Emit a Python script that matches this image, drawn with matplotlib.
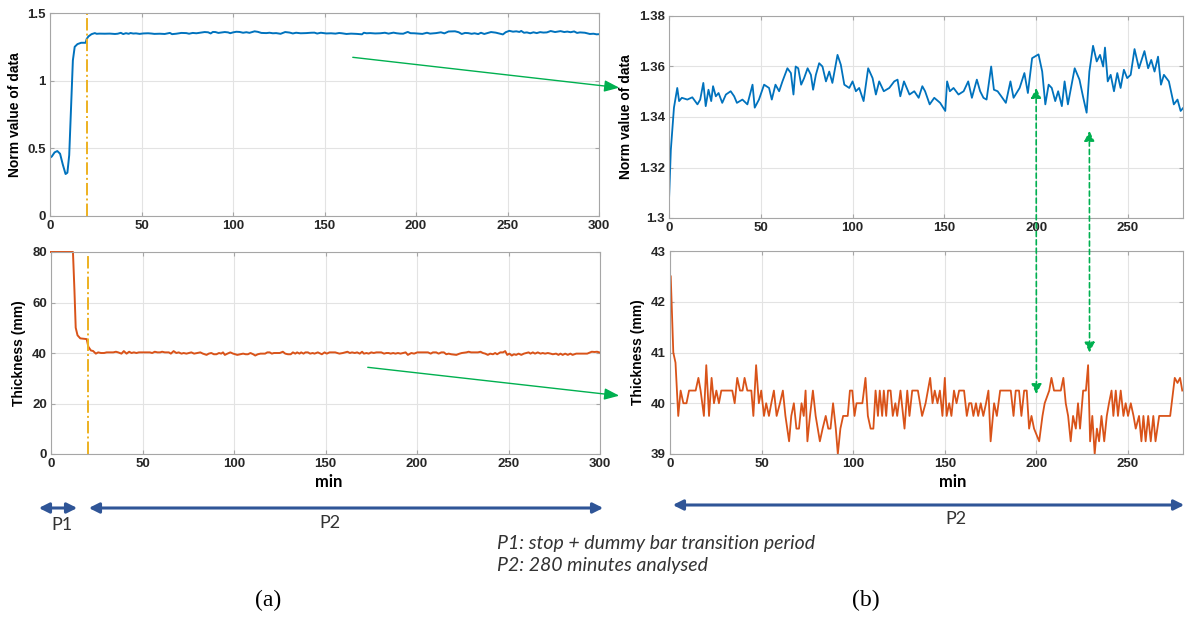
import numpy as np
import matplotlib
matplotlib.use("Agg")
import matplotlib.pyplot as plt
from matplotlib.patches import FancyArrowPatch, ConnectionPatch

# ── data ─────────────────────────────────────────────────────────────────────
# P1 transition (left panels, minutes 0-20)
p1_t = np.array([0, 1, 2.5, 4, 5.5, 7, 8.5, 9.5, 10.5, 11.5, 12.5, 13.5, 15, 17, 19.5])
p1_norm = np.array([0.43, 0.44, 0.47, 0.48, 0.46, 0.38, 0.31, 0.32, 0.45, 0.80,
                    1.15, 1.25, 1.27, 1.28, 1.28])
p1_thk_t = np.array([0, 12, 12.8, 13.5, 14.5, 16, 19.5])
p1_thk = np.array([80, 80, 65, 50, 47, 45.8, 45.5])

# P2 norm value, 280 minutes analysed
p2_norm_t = np.array([
    0, 1, 2.7, 4.5, 5.5, 7, 10, 12.7, 15.5, 17,
    18.7, 20, 21.5, 23, 24, 25.5, 27, 29, 31, 33.6,
    35.5, 37, 40, 42.7, 45.5, 46.7, 49, 51.8, 54.5, 56,
    58, 60, 61.8, 64.5, 66.4, 67.8, 69, 70.4, 72, 73.6,
    75.5, 77.3, 78.5, 80, 81.8, 83.6, 85.5, 87.3, 89, 91.8,
    93.6, 95.5, 98.2, 100, 101.8, 103.6, 106, 108.5, 110.9, 112.7,
    114.5, 117, 120, 122.7, 124.5, 126, 128, 131, 133.6, 136,
    138,
    139.5, 142, 144.5, 147.7, 150.5, 151.5, 153, 155, 157.7, 160.5,
    163, 165, 167.7, 169.5, 171.3, 173, 175.5, 177, 179, 181,
    183.5, 186, 187.7, 191, 193.6, 195.5, 197.8, 201.3, 203.3, 205,
    206.8, 208.5, 210.4, 212, 214, 215.5, 217.3, 219, 221, 223.6,
    225.5, 227.5, 229, 231, 233, 234.8, 236.5, 237.5, 239, 240.6,
    242.4, 244.2, 246, 247.8, 249.6, 251.5, 253.6, 256, 259, 261,
    262.7, 264.5, 266.4, 268, 269.6, 272.3, 275, 277, 278.7, 280])
p2_norm = np.array([
    1.307, 1.327, 1.3437, 1.3515, 1.3463, 1.3476, 1.3469, 1.3478, 1.3450, 1.3469,
    1.3535, 1.3443, 1.3508, 1.3463, 1.3522, 1.3482, 1.3495, 1.3456, 1.3489, 1.3502,
    1.3482, 1.3456, 1.3469, 1.3450, 1.3528, 1.3437, 1.3469, 1.3528, 1.3515, 1.3469,
    1.3528, 1.3502, 1.3541, 1.3593, 1.3574, 1.3489, 1.3600, 1.3593, 1.3528, 1.3554,
    1.3593, 1.3567, 1.3508, 1.3567, 1.3613, 1.3600, 1.3541, 1.3580, 1.3535, 1.3646,
    1.3607, 1.3528, 1.3515, 1.3541, 1.3502, 1.3515, 1.3463, 1.3593, 1.3554, 1.3489,
    1.3541, 1.3502, 1.3515, 1.3541, 1.3548, 1.3482, 1.3541, 1.3489, 1.3502, 1.3476,
    1.3522,
    1.3502, 1.3450, 1.3476, 1.3456, 1.3424, 1.3541, 1.3502, 1.3515, 1.3489, 1.3502,
    1.3541, 1.3476, 1.3548, 1.3502, 1.3476, 1.3469, 1.3600, 1.3508, 1.3502, 1.3482,
    1.3456, 1.3541, 1.3476, 1.3515, 1.3574, 1.3495, 1.3633, 1.3648, 1.3580, 1.3450,
    1.3528, 1.3515, 1.3463, 1.3502, 1.3443, 1.3541, 1.3450, 1.3515, 1.3593, 1.3548,
    1.3482, 1.3417, 1.3580, 1.3682, 1.3620, 1.3646, 1.3600, 1.3675, 1.3541, 1.3567,
    1.3502, 1.3574, 1.3515, 1.3587, 1.3554, 1.3567, 1.3669, 1.3593, 1.3661, 1.3593,
    1.3626, 1.3580, 1.3639, 1.3528, 1.3567, 1.3541, 1.3450, 1.3469, 1.3424, 1.3435])

# P2 thickness (mm)
p2_thk_t = np.array([
    0.4, 1.8, 3, 4.5, 5.8, 7.3, 9, 10.4, 14, 15.5,
    16.7, 18.5, 19.8, 21.3, 22.7, 24, 25.3, 26.7, 28, 34,
    35.3, 36.7, 38.2, 39.6, 40.7, 42.2, 44.4, 45.5, 47, 48.5,
    49.8, 51.3, 52.5, 54, 55.3, 56.7, 58.2, 60, 61.6, 63,
    65, 66.2, 67.6, 69, 70.4, 71.8, 73, 74, 75, 76.4,
    78, 79.5, 81.8, 83.3, 85, 86.4, 87.6, 89, 90.5, 91.6,
    93, 94.5, 97, 98.2, 99.5, 100.7, 101.8, 105, 106.7, 108,
    109.5, 111, 112.2, 113.5, 114.5, 115.8, 116.7, 118, 119, 120.4,
    121.6, 123, 124, 125.8, 128, 129.5, 130.7, 132.2, 135.3, 137.6,
    139.5, 142, 143.3, 144.5, 146, 147.3, 148.7, 150, 151, 152.4,
    153.6, 155, 156.4, 157.8, 160.5, 162, 163.3, 164.5, 165.6, 167,
    168.2, 169.6, 171, 172.5, 173.8, 175, 176.9, 178.4, 180.2, 186,
    187.5, 188.7, 190.5, 191.8, 193.3, 194.7, 196, 197.3, 198.7, 201.5,
    203.3, 204.5, 207, 208.2, 209.6, 213.3, 214.7, 216, 217.3, 218.7,
    220, 221.5, 222.7, 223.8, 225.5, 227, 228.2, 229.3, 230.5, 231.8,
    233, 234.2, 235.5, 237, 238.4, 239.6, 241, 242, 243.3, 244.5,
    246, 247.5, 248.7, 250, 251.5, 253, 254.2, 256, 257.3, 258.4,
    259.6, 261, 262.4, 263.8, 265, 267, 273, 275.5, 277, 278.4,
    279.6])
p2_thk = np.array([
    42.5, 41.0, 40.8, 39.75, 40.25, 40, 40, 40.25, 40.25, 40.5,
    40.25, 39.75, 40.75, 39.75, 40.5, 40, 40.25, 40, 40.25, 40.25,
    40, 40.5, 40.25, 40.25, 40.5, 40.25, 40.25, 39.75, 40.75, 40,
    40.25, 39.75, 40, 39.75, 40, 40.25, 39.75, 40, 40.25, 39.75,
    39.25, 39.75, 40, 39.5, 39.5, 40, 39.75, 40.25, 39.25, 39.75,
    40.25, 39.75, 39.25, 39.5, 39.75, 39.5, 39.5, 40, 39.5, 39,
    39.5, 39.75, 39.75, 40.25, 40.25, 39.75, 40, 40, 40.5, 39.75,
    39.5, 39.5, 40.25, 39.75, 40.25, 39.75, 40.25, 39.75, 40.25, 40.25,
    39.75, 40, 39.75, 40.25, 39.5, 40.25, 39.75, 40.25, 40.25, 39.75,
    40, 40.5, 40, 40.25, 40, 40.25, 39.75, 40.5, 39.75, 40,
    39.75, 40.25, 40, 40.25, 40.25, 39.75, 40, 40, 39.75, 40,
    39.75, 40, 39.75, 40, 40.25, 39.25, 40, 39.75, 40.25, 40.25,
    39.75, 40.25, 40.25, 39.75, 40.25, 40.25, 39.5, 39.75, 39.5, 39.25,
    39.75, 40, 40.25, 40.5, 40.25, 40.25, 40.5, 40, 39.75, 39.25,
    39.75, 39.5, 40, 39.5, 40.25, 40.25, 40.75, 39.25, 39.75, 39,
    39.5, 39.25, 39.75, 39.25, 39.75, 40, 40.25, 39.75, 40.25, 39.75,
    40.25, 39.75, 40, 39.75, 40, 39.75, 39.5, 39.75, 39.25, 39.75,
    39.25, 39.75, 39.25, 39.75, 39.25, 39.75, 39.75, 40.5, 40.4, 40.5,
    40.25])

P1_END = 20
norm_t = np.concatenate([p1_t, p2_norm_t + P1_END])
norm_v = np.concatenate([p1_norm, p2_norm])
thk_t = np.concatenate([p1_thk_t, p2_thk_t + P1_END])
thk_v = np.concatenate([p1_thk, p2_thk])

# ── style ────────────────────────────────────────────────────────────────────
BLUE = "#0072BD"
ORANGE = "#D95319"
YELLOW = "#EDB120"
GREEN = "#00B050"
NAVY = "#2F5597"
W, H = 1191, 619

plt.rcParams["font.family"] = ["Liberation Sans", "DejaVu Sans"]

fig = plt.figure(figsize=(W / 100, H / 100), dpi=100)


def px_axes(x0, y0, x1, y1):
    return fig.add_axes([x0 / W, 1 - y1 / H, (x1 - x0) / W, (y1 - y0) / H])


def style(ax):
    ax.grid(True, color="#e3e3e3", lw=0.8)
    ax.set_axisbelow(True)
    for s in ax.spines.values():
        s.set_color("#a6a6a6")
        s.set_linewidth(0.8)
    ax.tick_params(direction="in", length=3, color="#a6a6a6", top=True, right=True,
                   labelsize=9.5, labelcolor="#262626", pad=3)
    for lab in ax.get_xticklabels() + ax.get_yticklabels():
        lab.set_fontweight("bold")


fmt = lambda v, _: f"{v:g}"
lab_kw = dict(fontsize=10, fontweight="bold", labelpad=4)
min_kw = dict(fontsize=12, fontweight="bold", family=["Lato", "DejaVu Sans"], labelpad=2)

ax_tl = px_axes(50, 13, 599, 216)
ax_tl.plot(norm_t, norm_v, color=BLUE, lw=1.4)
ax_tl.axvline(P1_END, color=YELLOW, lw=1.4, ls="-.")
ax_tl.set_xlim(0, 300)
ax_tl.set_ylim(0, 1.5)
ax_tl.set_xticks(np.arange(0, 301, 50))
ax_tl.set_yticks([0, 0.5, 1, 1.5])
ax_tl.yaxis.set_major_formatter(fmt)
ax_tl.set_ylabel("Norm value of data", **lab_kw)

ax_bl = px_axes(51, 252, 600, 454)
ax_bl.plot(thk_t, thk_v, color=ORANGE, lw=1.4, clip_on=False)
ax_bl.axvline(P1_END, color=YELLOW, lw=1.4, ls="-.")
ax_bl.set_xlim(0, 300)
ax_bl.set_ylim(0, 80)
ax_bl.set_xticks(np.arange(0, 301, 50))
ax_bl.set_yticks(np.arange(0, 81, 20))
ax_bl.set_ylabel("Thickness (mm)", **lab_kw)
ax_bl.set_xlabel("min", **min_kw)
ax_bl.xaxis.set_label_coords(0.505, -0.1)

ax_tr = px_axes(669, 16, 1183, 218)
ax_tr.plot(p2_norm_t, p2_norm, color=BLUE, lw=1.3)
ax_tr.set_xlim(0, 280)
ax_tr.set_ylim(1.3, 1.38)
ax_tr.set_xticks(np.arange(0, 251, 50))
ax_tr.set_yticks([1.3, 1.32, 1.34, 1.36, 1.38])
ax_tr.yaxis.set_major_formatter(fmt)
ax_tr.set_ylabel("Norm value of data", **lab_kw)

ax_br = px_axes(670, 251, 1183, 454)
ax_br.plot(p2_thk_t, p2_thk, color=ORANGE, lw=1.3)
ax_br.set_xlim(0, 280)
ax_br.set_ylim(39, 43)
ax_br.set_xticks(np.arange(0, 251, 50))
ax_br.set_yticks(np.arange(39, 44, 1))
ax_br.set_ylabel("Thickness (mm)", **lab_kw)
ax_br.set_xlabel("min", **min_kw)
ax_br.xaxis.set_label_coords(0.551, -0.1)

for ax in (ax_tl, ax_bl, ax_tr, ax_br):
    style(ax)

# ── annotations ──────────────────────────────────────────────────────────────
def fp(x, y):
    return (x / W, 1 - y / H)


def arrow(p0, p1, color, lw, style_, ls="-"):
    a = FancyArrowPatch(fp(*p0), fp(*p1), transform=fig.transFigure, arrowstyle=style_,
                        color=color, lw=lw, ls=ls, mutation_scale=10)
    fig.add_artist(a)


# green zoom arrows from (a) to (b)
arrow((350, 57), (622, 88), GREEN, 1.0, "-|>,head_length=0.9,head_width=0.35")
arrow((365, 367), (622, 396), GREEN, 1.0, "-|>,head_length=0.9,head_width=0.35")

# green dashed links between top and bottom of (b)
for xa, ya, yb in [(200, 1.3515, 40.18), (229, 1.3345, 41.0)]:
    con = ConnectionPatch(xyA=(xa, ya), coordsA=ax_tr.transData,
                          xyB=(xa, yb), coordsB=ax_br.transData,
                          arrowstyle="<|-|>,head_length=0.6,head_width=0.3",
                          color=GREEN, lw=1.2, ls=(0, (3, 2)), mutation_scale=10)
    fig.add_artist(con)

# period arrows
pstyle = "<|-|>,head_length=0.6,head_width=0.3"
arrow((36, 508), (80, 508), NAVY, 2.2, pstyle)
arrow((86, 508), (606, 508), NAVY, 2.2, pstyle)
arrow((670, 505), (1187, 505), NAVY, 2.2, pstyle)

txt_font = ["Lato", "DejaVu Sans"]
tkw = dict(fontsize=13, family=txt_font, va="center", color="#333333")
fig.text(*fp(62, 525), "P1", ha="center", **tkw)
fig.text(*fp(330, 523), "P2", ha="center", **tkw)
fig.text(*fp(956, 519), "P2", ha="center", **tkw)
ikw = dict(tkw, fontsize=14)
fig.text(*fp(497, 543), "P1: stop + dummy bar transition period", style="italic",
         ha="left", **ikw)
fig.text(*fp(497, 566), "P2: 280 minutes analysed", style="italic", ha="left", **ikw)

serif = ["Liberation Serif", "DejaVu Serif"]
fig.text(*fp(268, 600), "(a)", fontsize=17, family=serif, ha="center", va="center")
fig.text(*fp(866, 600), "(b)", fontsize=17, family=serif, ha="center", va="center")

fig.savefig("out.png", dpi=100, facecolor="white")
